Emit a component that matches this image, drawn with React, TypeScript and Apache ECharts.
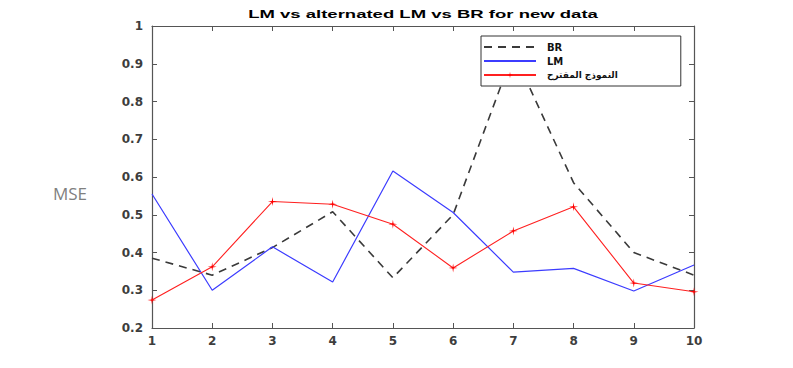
import React, { useEffect, useRef } from "react";
import * as echarts from "echarts";

const categories = [1, 2, 3, 4, 5, 6, 7, 8, 9, 10];
const brValues = [0.385, 0.34, 0.413, 0.508, 0.333, 0.5, 0.93, 0.585, 0.4, 0.34];
const lmValues = [0.555, 0.3, 0.415, 0.322, 0.616, 0.506, 0.348, 0.358, 0.298, 0.367];
const proposedValues = [0.274, 0.362, 0.535, 0.528, 0.475, 0.359, 0.457, 0.521, 0.319, 0.296];
const seriesNames = ["BR", "LM", "النموذج المقترح"];
const titleText = "LM vs alternated LM vs BR for new data";
const yLabel = "MSE";

const plusPath =
  "path://M0,-10L1.4,-1.4L10,0L1.4,1.4L0,10L-1.4,1.4L-10,0L-1.4,-1.4Z";

export default function App() {
  const ref = useRef<HTMLDivElement>(null);
  useEffect(() => {
    if (!ref.current) return;
    const chart = echarts.init(ref.current, undefined, { renderer: "svg" });
    const axisColor = "#555555";
    const labelStyle = {
      color: "#3d3d3d",
      fontFamily: "DejaVu Sans, Arial, sans-serif",
      fontSize: 12,
      fontWeight: "bold" as const,
    };
    const toPairs = (vals: number[]) => categories.map((c, i) => [c, vals[i]]);
    chart.setOption({
      animation: false,
      backgroundColor: "#ffffff",
      grid: { left: 152, right: 99, top: 26, bottom: 40 },
      legend: {
        orient: "vertical",
        left: 481,
        top: 36,
        itemWidth: 52,
        itemHeight: 8,
        itemGap: 0,
        padding: [4, 63, 4, 2],
        backgroundColor: "#ffffff",
        borderColor: "#333333",
        borderWidth: 1,
        borderRadius: 0,
        textStyle: {
          fontFamily: "DejaVu Sans, Arial, sans-serif",
          fontSize: 10,
          fontWeight: "bold",
          color: "#111111",
          lineHeight: 14,
          padding: [0, 0, 0, 6],
          rich: {
            ar: {
              fontFamily: "DejaVu Sans, sans-serif",
              fontSize: 9,
              fontWeight: "bold",
              color: "#111111",
              lineHeight: 14,
            },
          },
        },
        formatter: (name: string) => (name === seriesNames[2] ? `{ar|${name}}` : name),
        data: seriesNames,
      },
      graphic: [
        {
          type: "text",
          x: 423,
          y: 14,
          scaleX: 1.61,
          style: {
            text: titleText,
            fontFamily: "Liberation Sans, Arial, sans-serif",
            fontSize: 11.5,
            fontWeight: "bold",
            fill: "#000000",
            textAlign: "center",
            textVerticalAlign: "middle",
          },
        },
        {
          type: "text",
          left: 53,
          top: 185,
          style: {
            text: yLabel,
            fontFamily: "Open Sans, sans-serif",
            fontSize: 17,
            fill: "#808080",
          },
        },
      ],
      xAxis: [
        {
          type: "value",
          min: 1,
          max: 10,
          interval: 1,
          axisLine: { show: true, onZero: false, lineStyle: { color: axisColor, width: 1.2 } },
          axisTick: { inside: true, length: 5, lineStyle: { color: axisColor } },
          axisLabel: { ...labelStyle, margin: 7 },
          splitLine: { show: false },
        },
        {
          type: "value",
          position: "top",
          min: 1,
          max: 10,
          interval: 1,
          axisLine: { show: true, onZero: false, lineStyle: { color: axisColor, width: 1.2 } },
          axisTick: { inside: true, length: 5, lineStyle: { color: axisColor } },
          axisLabel: { show: false },
          splitLine: { show: false },
        },
      ],
      yAxis: [
        {
          type: "value",
          min: 0.2,
          max: 1,
          interval: 0.1,
          axisLine: { show: true, onZero: false, lineStyle: { color: axisColor, width: 1.2 } },
          axisTick: { show: true, inside: true, length: 5, lineStyle: { color: axisColor } },
          axisLabel: {
            ...labelStyle,
            margin: 9,
            formatter: (v: number) => String(parseFloat(v.toFixed(1))),
          },
          splitLine: { show: false },
        },
        {
          type: "value",
          position: "right",
          min: 0.2,
          max: 1,
          interval: 0.1,
          axisLine: { show: true, onZero: false, lineStyle: { color: axisColor, width: 1.2 } },
          axisTick: { show: true, inside: true, length: 5, lineStyle: { color: axisColor } },
          axisLabel: { show: false },
          splitLine: { show: false },
        },
      ],
      series: [
        {
          name: seriesNames[0],
          type: "line",
          data: toPairs(brValues),
          symbol: "none",
          lineStyle: { color: "#3a3a3a", width: 1.6, type: [8, 6] },
          itemStyle: { color: "rgba(0,0,0,0)" },
          z: 2,
        },
        {
          name: seriesNames[1],
          type: "line",
          data: toPairs(lmValues),
          symbol: "none",
          lineStyle: { color: "#3c3cff", width: 1.2 },
          itemStyle: { color: "rgba(0,0,0,0)" },
          z: 3,
        },
        {
          name: seriesNames[2],
          type: "line",
          data: toPairs(proposedValues),
          symbol: plusPath,
          symbolSize: 9,
          showSymbol: true,
          lineStyle: { color: "#ff2020", width: 1.1 },
          itemStyle: { color: "#ff0000" },
          z: 4,
        },
      ],
    });
    return () => chart.dispose();
  }, []);
  return (
    <div
      ref={ref}
      style={{ position: "absolute", left: 0, top: 0, width: 793, height: 368 }}
    />
  );
}
